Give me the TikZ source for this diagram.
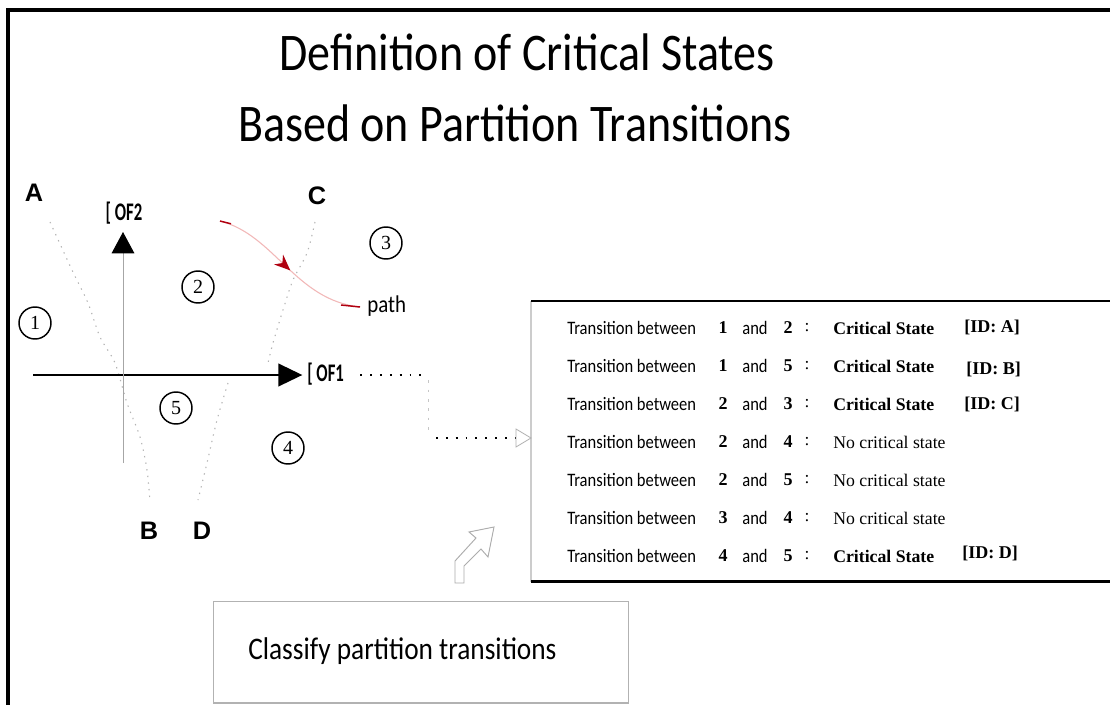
\documentclass[tikz,border=0pt]{standalone}
\usepackage{fontspec}
\setmainfont{Liberation Serif}
\newfontfamily\gill{Carlito}
\newfontfamily\heavy{Liberation Sans}
\usetikzlibrary{decorations.markings,arrows.meta}
\definecolor{darkred}{HTML}{B00010}
\definecolor{pinkline}{HTML}{F2B8B8}
\newcommand{\axtext}[1]{\scalebox{0.66}[1]{#1}}
\newcommand{\tall}[1]{\scalebox{1}[1.15]{#1}}

\begin{document}
\begin{tikzpicture}[x=0.75pt,y=-0.75pt,
  title/.style={font=\gill\fontsize{34.5}{40}\selectfont, anchor=base, inner sep=0},
  region/.style={circle, draw, line width=1.1pt, minimum size=24pt, inner sep=0,
                 font=\fontsize{15}{15}\selectfont},
  corner/.style={font=\heavy\bfseries\fontsize{19}{19}\selectfont, inner sep=0},
  axislbl/.style={font=\gill\bfseries\fontsize{19}{19}\selectfont, inner sep=0},
  bound/.style={gray!60, line width=0.8pt, dash pattern=on 1pt off 4pt},
  sanscell/.style={font=\gill\fontsize{12.4}{14}\selectfont, inner sep=0},
  serifcell/.style={font=\fontsize{13}{15}\selectfont, inner sep=0},
  boldcell/.style={font=\bfseries\fontsize{13.5}{15}\selectfont, inner sep=0},
  dots/.style={black, line width=1.4pt, dash pattern=on 1.4pt off 6pt},
  greydash/.style={gray!45, line width=0.6pt, dash pattern=on 2pt off 5pt}]
\clip (0,0) rectangle (1110,704);
\fill[white] (0,0) rectangle (1110,704);

% outer frame (top and left edges)
\draw[line width=2.4pt] (8,720) -- (8,10) -- (1120,10);

% title
\node[title] (t1) at (527,70) {\tall{Definition of Critical States}};
\node[title] (t2) at (515,141) {\tall{Based on Partition Transitions}};

% partition boundaries
\draw[bound] plot[smooth] coordinates {(50,222) (72,270) (88,303) (100,337) (115,363) (127,403) (140,437) (147,470) (150,502)};
\draw[bound] plot[smooth] coordinates {(315,222) (307,253) (293,280) (283,310) (273,343) (268,363)};
\draw[bound] plot[smooth] coordinates {(228,383) (217,420) (207,463) (198,500)};

% boundary identifiers
\node[corner] (lA) at (34,193) {A};
\node[corner] (lC) at (317,196) {C};
\node[corner] (lB) at (149,531) {B};
\node[corner] (lD) at (202,531) {D};

% objective axes
\node[axislbl, anchor=west] (of1) at (307,374) {\axtext{[ OF1}};
\node[axislbl] (of2) at (124,213) {\axtext{[ OF2}};
\coordinate (hstart) at (33,375);
\coordinate (vstart) at (123,463);
\draw[line width=1.5pt, -{Triangle[length=18pt,width=17pt]}, shorten >=3.5pt] (hstart) -- (hstart -| of1.west);
\draw[gray!70, line width=0.75pt, -{Triangle[length=16pt,width=17pt,color=black]}] (vstart) -- (123,232);

% partitions
\node[region] (r1) at (35,323) {1};
\node[region] (r2) at (198,287) {2};
\node[region] (r3) at (386,243) {3};
\node[region] (r4) at (288,448) {4};
\node[region] (r5) at (176,408) {5};

% trajectory crossing boundary C
\coordinate (pstart) at (220,221);
\coordinate (pend) at (360,307);
\node[font=\gill\fontsize{15.7}{16}\selectfont, inner sep=0, anchor=west] (plbl) at (367,306) {\tall{path}};
\draw[pinkline, line width=0.8pt, postaction={decorate},
  decoration={markings, mark=at position 0.52 with {\arrow{Stealth[length=12pt,width=10pt,color=darkred]}}}]
  (pstart) .. controls (275,235) and (295,300) .. (pend);
\draw[darkred, line width=1.1pt] (pstart) -- (231,223.8);
\draw[darkred, line width=1.1pt] (341,305) -- (pend);

% table of transitions
\node[minimum width=435pt, minimum height=210pt, inner sep=0, anchor=north west] (tbl) at (531,301) {};
\draw[gray!40, line width=0.8pt] (tbl.north west) -- (tbl.south west);
\draw[line width=1.6pt] (tbl.north west) -- (tbl.north east);
\draw[line width=1.6pt] (tbl.south west) -- (tbl.south east);

\foreach \i/\a/\b/\res/\id/\dx/\dy in {
  1/1/2/{\bfseries Critical State}/{[ID: A]}/0/-1,
  2/1/5/{\bfseries Critical State}/{[ID: B]}/2/3,
  3/2/3/{\bfseries Critical State}/{[ID: C]}/0/0,
  4/2/4/{No critical state}/{}/0/0,
  5/2/5/{No critical state}/{}/0/0,
  6/3/4/{No critical state}/{}/0/0,
  7/4/5/{\bfseries Critical State}/{[ID: D]}/-2/-3} {
  \pgfmathsetmacro{\yy}{328+38*(\i-1)}
  \node[sanscell, anchor=west] (tr\i) at (567,\yy) {\tall{Transition between}};
  \node[boldcell] (na\i) at (723,\yy) {\a};
  \node[sanscell] (and\i) at (755,\yy) {\tall{and}};
  \node[boldcell] (nb\i) at (788,\yy) {\b};
  \node[serifcell] (col\i) at (807,\yy) {:};
  \node[serifcell, font=\fontsize{13.3}{15}\selectfont, anchor=west] (res\i) at (833,\yy) {\res};
  \node[boldcell, anchor=west] (id\i) at (964+\dx,\yy+\dy) {\id};
}

% link from the objective space to the table
\coordinate (c1) at (428,375);
\coordinate (c2) at (428,438);
\coordinate (c3) at (516,438);
\draw[dots] ([xshift=12pt]of1.east |- c1) -- (c1);
\draw[greydash] ([yshift=-4pt]c1) -- ([yshift=3pt]c2);
\draw[dots] ([xshift=6pt]c2) -- (c3);
\draw[gray!60, line width=0.6pt] (516,429) -- (tbl.west |- c3) -- (516,447) -- cycle;

% hollow bent arrow
\draw[gray!65, line width=0.7pt, line join=miter]
  (455,583) -- (455,561) -- (476,538) -- (469,532) -- (494,527) -- (488,557) -- (481,549) -- (464,566) -- (464,583) -- cycle;

% step box
\node[draw=gray!60, line width=0.9pt, minimum width=311pt, minimum height=76pt, inner sep=0, anchor=north west] (cls) at (213,601) {};
\node[font=\gill\fontsize{20.5}{24}\selectfont, inner sep=0, anchor=west] (clstext) at (248,651) {\tall{Classify partition transitions}};
\end{tikzpicture}
\end{document}
